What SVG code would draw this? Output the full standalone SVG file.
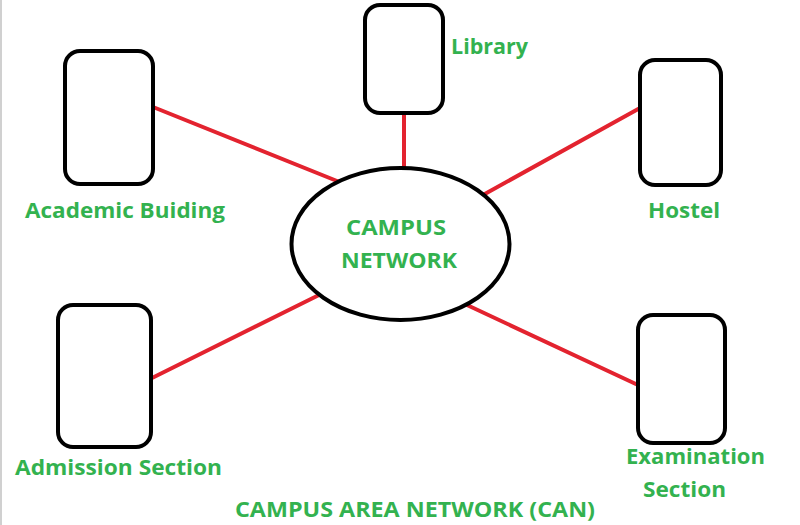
<svg xmlns="http://www.w3.org/2000/svg" width="800" height="525" viewBox="0 0 800 525">
<style>
.node{fill:#fff;stroke:#000;stroke-width:4}
.link{stroke:#e3232f;stroke-width:4;stroke-linecap:round}
.lbl{font-family:"Open Sans",Lato,"Liberation Sans",sans-serif;font-weight:bold;font-size:21px;fill:#33b24f}
</style>
<rect width="800" height="525" fill="#fff"/>
<line x1="1" y1="0" x2="1" y2="525" stroke="#d0d0d0" stroke-width="2"/>
<g id="connectors">
<line class="link" x1="153" y1="107" x2="342" y2="183"/>
<line class="link" x1="404" y1="113" x2="404" y2="170"/>
<line class="link" x1="483" y1="195" x2="640" y2="108"/>
<line class="link" x1="148" y1="380" x2="321" y2="294"/>
<line class="link" x1="467" y1="305" x2="638" y2="385"/>
</g>
<g id="campus-network">
<ellipse class="node" cx="400.5" cy="244" rx="109" ry="76"/>
<text class="lbl" x="346" y="235" textLength="100" lengthAdjust="spacingAndGlyphs">CAMPUS</text>
<text class="lbl" x="341" y="268" textLength="116" lengthAdjust="spacingAndGlyphs">NETWORK</text>
</g>
<g id="academic">
<rect class="node" x="65" y="51" width="88" height="133" rx="15"/>
<text class="lbl" x="25" y="218" textLength="200" lengthAdjust="spacingAndGlyphs">Academic Buiding</text>
</g>
<g id="library">
<rect class="node" x="365" y="5" width="78" height="108" rx="15"/>
<text class="lbl" x="451" y="54" textLength="77" lengthAdjust="spacingAndGlyphs">Library</text>
</g>
<g id="hostel">
<rect class="node" x="640" y="60" width="81" height="125" rx="15"/>
<text class="lbl" x="648" y="218" textLength="72" lengthAdjust="spacingAndGlyphs">Hostel</text>
</g>
<g id="admission">
<rect class="node" x="58" y="305" width="93" height="142" rx="15"/>
<text class="lbl" x="15" y="475" textLength="207" lengthAdjust="spacingAndGlyphs">Admission Section</text>
</g>
<g id="examination">
<rect class="node" x="638" y="315" width="87" height="128" rx="15"/>
<text class="lbl" x="626" y="464" textLength="139" lengthAdjust="spacingAndGlyphs">Examination</text>
<text class="lbl" x="643" y="497" textLength="83" lengthAdjust="spacingAndGlyphs">Section</text>
</g>
<text class="lbl" x="235" y="517" textLength="360" lengthAdjust="spacingAndGlyphs">CAMPUS AREA NETWORK (CAN)</text>
</svg>
